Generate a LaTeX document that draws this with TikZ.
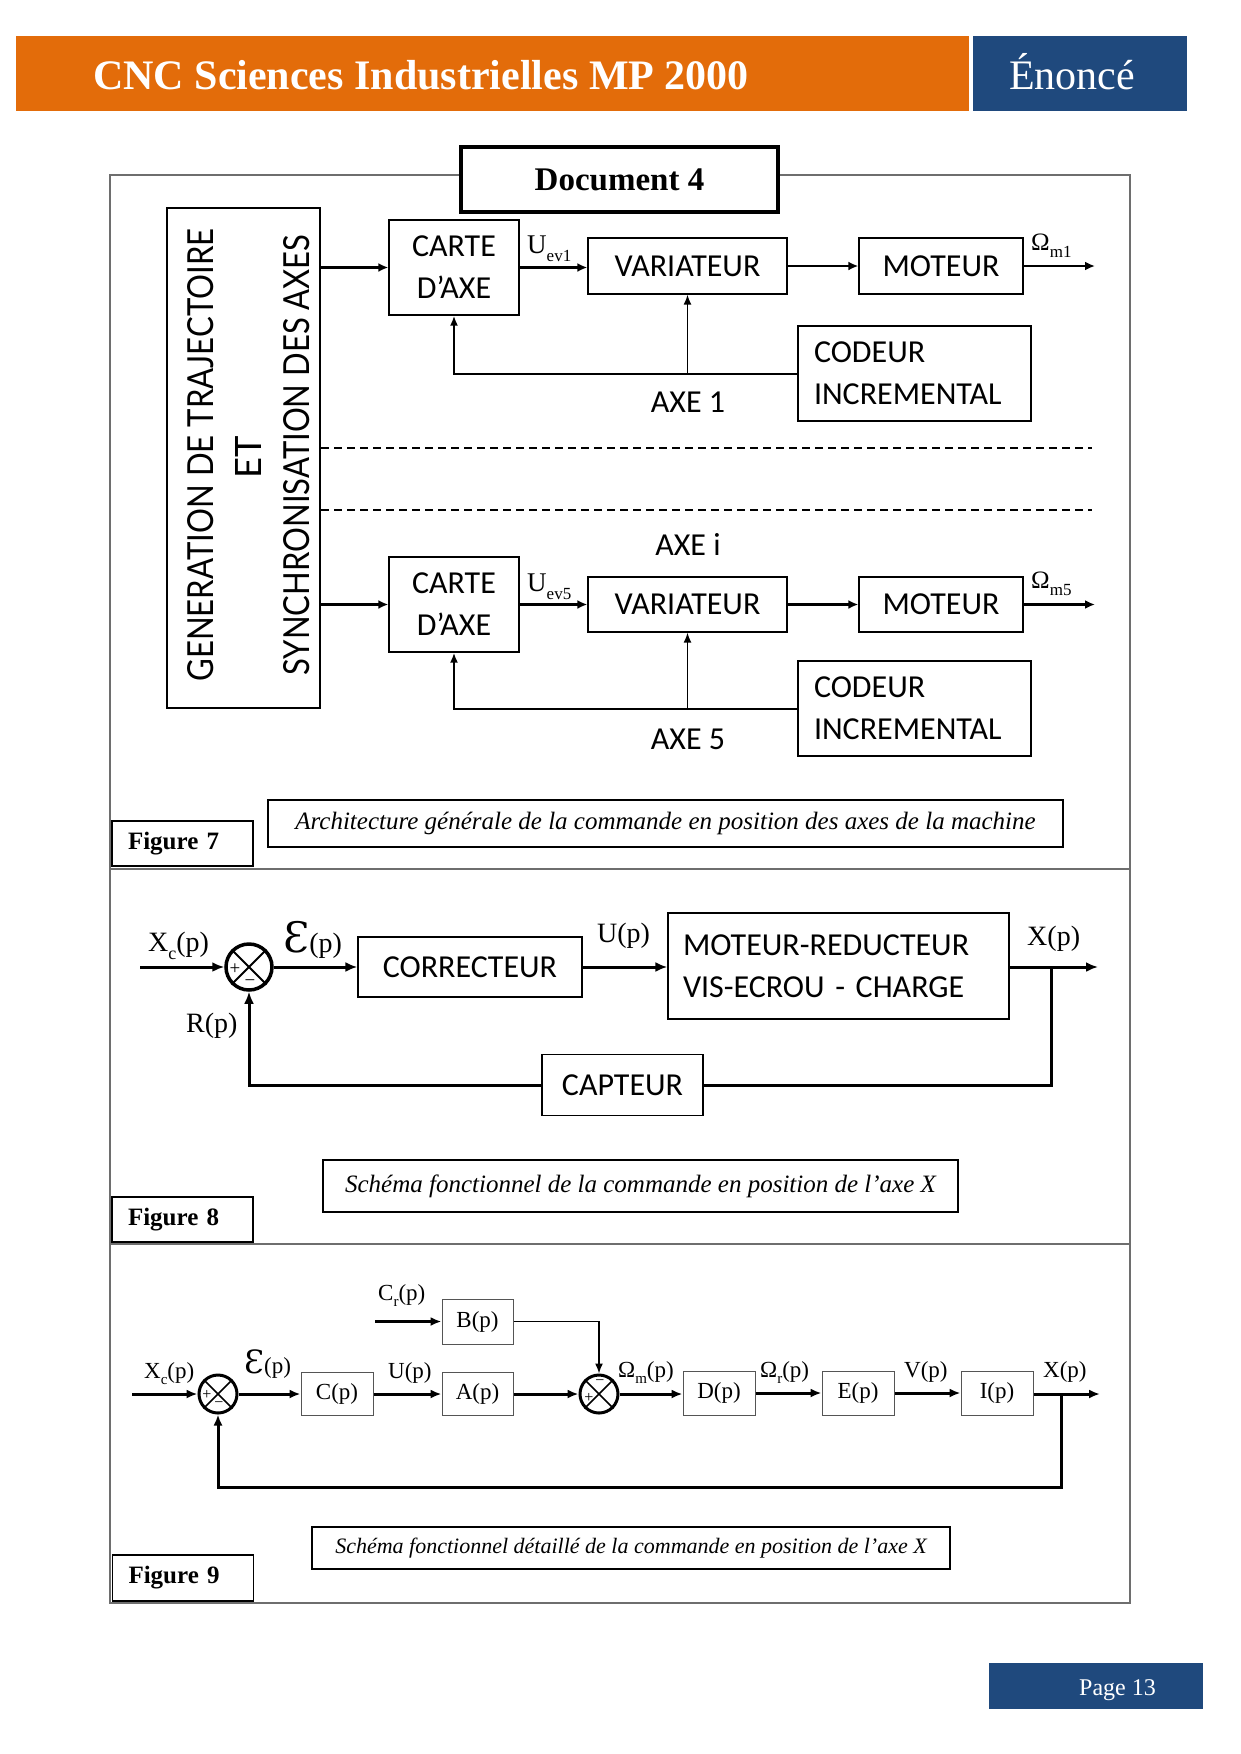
\documentclass[tikz,border=0pt]{standalone}
\usepackage{fontspec}
\usepackage{graphicx}
\setmainfont{Liberation Serif}
\newfontfamily\blkfont{Carlito}
\newfontfamily\genfont{Lato}
\newfontfamily\epsfont{DejaVu Serif}
\usetikzlibrary{arrows.meta,calc}
\definecolor{hdrorange}{HTML}{E36C0A}
\definecolor{hdrblue}{HTML}{1F497D}
\definecolor{framegray}{HTML}{6E6E6E}
\definecolor{boxgray}{HTML}{555555}
\newcommand\fsz[2]{\fontsize{#1}{#2}\selectfont}
\newcommand\sbx[2]{\raisebox{-0.3em}{\fontsize{#1}{#1}\selectfont #2}}
\begin{document}
\begin{tikzpicture}[x=1pt,y=-1pt,
  lbl/.style={inner sep=0pt},
  blk/.style={draw=black, line width=1.3pt, inner sep=0pt, font={\blkfont\fsz{32}{42}}, align=center},
  blknine/.style={draw=boxgray, line width=1pt, inner sep=0pt, font={\fsz{23}{23}}},
  capbox/.style={draw=black, line width=1.5pt, inner sep=0pt, font={\itshape\fsz{25}{25}}},
  figbox/.style={draw=black, line width=1.5pt, inner xsep=16pt, inner ysep=0pt, text width=109pt, align=left, font={\bfseries\fsz{25}{25}}},
  sumnode/.style={draw=black, circle, inner sep=0pt},
  arrseven/.style={line width=2.5pt, -{Latex[length=10pt,width=9pt]}},
  fbseven/.style={line width=2pt, -{Latex[length=10pt,width=8pt]}},
  fbthin/.style={line width=1.5pt, -{Latex[length=10pt,width=8pt]}},
  arreight/.style={line width=3pt, -{Latex[length=12pt,width=10pt]}},
  lneight/.style={line width=3pt},
  arrnine/.style={line width=3pt, -{Latex[length=11pt,width=9pt]}},
  arrninethin/.style={line width=1.5pt, -{Latex[length=10pt,width=8pt]}},
  dashline/.style={line width=2pt, dash pattern=on 8pt off 5pt}
]
\useasboundingbox (0,0) rectangle (1240,1754);

% ---------- header ----------
\node[fill=hdrorange, minimum width=953pt, minimum height=75pt, inner sep=0pt] (hdr) at (492.5,73.5) {};
\node[fill=hdrblue, minimum width=214pt, minimum height=75pt, inner sep=0pt] (tag) at (1080,73.5) {};
\node[lbl, anchor=base west, text=white, font={\bfseries\fsz{42}{42}}] (ttl) at (93,89) {CNC Sciences Industrielles MP 2000};
\node[lbl, anchor=base west, text=white, font={\fsz{42}{42}}] (enonce) at (1009,89) {Énoncé};

% ---------- page number ----------
\node[fill=hdrblue, minimum width=214pt, minimum height=46pt, inner sep=0pt] (pg) at (1096,1686) {};
\node[lbl, anchor=base east, text=white, font={\fsz{24}{24}}] (pgt) at (1156,1695) {Page 13};

% ---------- frame ----------
\draw[framegray, line width=1.5pt] (110,175) rectangle (1130,1603);
\draw[framegray, line width=1.5pt] (110,869) -- (1130,869);
\draw[framegray, line width=1.5pt] (110,1244) -- (1130,1244);
\node[draw=black, line width=4pt, fill=white, minimum width=317pt, minimum height=65pt, inner sep=0pt, font={\bfseries\fsz{33}{33}}] (doc) at (619.5,179.5) {Document 4};

% ---------- Figure 7 ----------
\node[draw=black, line width=2pt, minimum width=153pt, minimum height=500pt, inner sep=0pt] (gen) at (243.5,458) {};
\node[lbl, rotate=90, font=\genfont] (gone) at (201,455) {\resizebox{453pt}{26pt}{GENERATION DE TRAJECTOIRE}};
\node[lbl, rotate=90, font=\genfont] (gtwo) at (248,457) {\resizebox{!}{26pt}{ET}};
\node[lbl, rotate=90, font=\genfont] (gthree) at (297,455) {\resizebox{441pt}{26pt}{SYNCHRONISATION DES AXES}};

\node[blk, minimum width=130pt, minimum height=95pt] (carteone) at (454,267.5) {CARTE\\D’AXE};
\node[blk, minimum width=199pt, minimum height=56pt] (varone) at (687.5,266) {VARIATEUR};
\node[blk, minimum width=164pt, minimum height=56pt] (motone) at (941,266) {MOTEUR};
\node[blk, minimum width=233pt, minimum height=95pt, align=left, text width=201pt, inner xsep=16pt] (codone) at (914.5,373.5) {CODEUR\\INCREMENTAL};
\node[lbl, font={\blkfont\fsz{32}{32}}] (axeone) at (688,402) {AXE 1};

\coordinate (outone) at (1095,266);
\draw[arrseven] (gen.east |- carteone.west) -- (carteone.west);
\draw[arrseven] (carteone.east) -- (carteone.east -| varone.west);
\draw[arrseven] (varone.east) -- (motone.west);
\draw[arrseven] (motone.east) -- (outone);
\draw[fbseven] (codone.west) -| (carteone.south);
\draw[fbthin] (codone.west -| varone.south) -- (varone.south);
\node[lbl, anchor=base west, font={\fsz{27}{27}}] (uone) at (527,253) {U\sbx{17}{ev1}};
\node[lbl, anchor=base west, font={\fsz{25}{25}}] (omone) at (1031,250) {Ω\sbx{17}{m1}};

\coordinate (daone) at (321,448); \coordinate (dbone) at (1092,448);
\coordinate (datwo) at (321,510); \coordinate (dbtwo) at (1092,510);
\draw[dashline] (daone) -- (dbone);
\draw[dashline] (datwo) -- (dbtwo);
\node[lbl, font={\blkfont\fsz{32}{32}}] (axei) at (688,544) {AXE i};

\node[blk, minimum width=130pt, minimum height=95pt] (cartefive) at (454,604.5) {CARTE\\D’AXE};
\node[blk, minimum width=199pt, minimum height=55pt] (varfive) at (687.5,604.5) {VARIATEUR};
\node[blk, minimum width=164pt, minimum height=55pt] (motfive) at (941,604.5) {MOTEUR};
\node[blk, minimum width=233pt, minimum height=95pt, align=left, text width=201pt, inner xsep=16pt] (codfive) at (914.5,708.5) {CODEUR\\INCREMENTAL};
\node[lbl, font={\blkfont\fsz{32}{32}}] (axefive) at (688,739) {AXE 5};

\coordinate (outfive) at (1095,604.5);
\draw[arrseven] (gen.east |- cartefive.west) -- (cartefive.west);
\draw[arrseven] (cartefive.east) -- (varfive.west);
\draw[arrseven] (varfive.east) -- (motfive.west);
\draw[arrseven] (motfive.east) -- (outfive);
\draw[fbseven] (codfive.west) -| (cartefive.south);
\draw[fbthin] (codfive.west -| varfive.south) -- (varfive.south);
\node[lbl, anchor=base west, font={\fsz{27}{27}}] (ufive) at (527,591) {U\sbx{17}{ev5}};
\node[lbl, anchor=base west, font={\fsz{25}{25}}] (omfive) at (1031,588) {Ω\sbx{17}{m5}};

\node[capbox, minimum width=795pt, minimum height=47pt] (capseven) at (665.5,823.5) {Architecture générale de la commande en position des axes de la machine};
\node[figbox, minimum height=45pt] (figseven) at (182.5,843.5) {Figure 7};

% ---------- Figure 8 ----------
\node[sumnode, line width=3.5pt, minimum size=46pt] (seight) at (249,967) {};
\draw[line width=2pt] (seight.north west) -- (seight.south east) (seight.north east) -- (seight.south west);
\node[lbl, font={\fsz{19}{19}}] (seightp) at (235,969) {+};
\node[lbl, font={\fsz{19}{19}}] (seightm) at (250,983) {−};
\node[blk, minimum width=224pt, minimum height=60pt] (corr) at (470,967) {CORRECTEUR};
\node[blk, minimum width=341pt, minimum height=106pt, align=left, text width=311pt, inner xsep=15pt] (mr) at (838.5,966) {MOTEUR-REDUCTEUR\\VIS-ECROU - CHARGE};
\node[blk, minimum width=161pt, minimum height=61pt] (capt) at (622.5,1085) {CAPTEUR};

\coordinate (ineight) at (140,967);
\coordinate (outeight) at (1098,967);
\coordinate (breight) at (1051,967);
\draw[arreight] (ineight) -- (seight.west);
\draw[arreight] (seight.east) -- (corr.west);
\draw[arreight] (corr.east) -- (corr.east -| mr.west);
\draw[arreight] (mr.east |- outeight) -- (outeight);
\draw[lneight] (breight) |- (capt.east);
\draw[arreight] (capt.west) -| (seight.south);

\node[lbl, anchor=base west, font={\fsz{28}{28}}] (xceight) at (148,951) {X\sbx{18}{c}(p)};
\node[lbl, anchor=base west, font={\fsz{28}{28}}] (eeight) at (283,952) {{\epsfont\fsz{42}{42}Ɛ}(p)};
\node[lbl, anchor=base west, font={\fsz{28}{28}}] (reight) at (186,1032) {R(p)};
\node[lbl, anchor=base west, font={\fsz{28}{28}}] (ueight) at (597,942) {U(p)};
\node[lbl, anchor=base west, font={\fsz{28}{28}}] (xeight) at (1027,945) {X(p)};

\node[capbox, minimum width=635pt, minimum height=52pt] (capeight) at (640.5,1186) {Schéma fonctionnel de la commande en position de l’axe X};
\node[figbox, minimum height=45pt] (figeight) at (182.5,1219.5) {Figure 8};

% ---------- Figure 9 ----------
\node[sumnode, line width=3pt, minimum size=38pt] (sone) at (218,1394) {};
\draw[line width=1.5pt] (sone.north west) -- (sone.south east) (sone.north east) -- (sone.south west);
\node[lbl, font={\fsz{16}{16}}] (sonep) at (207,1395) {+};
\node[lbl, font={\fsz{16}{16}}] (sonem) at (219,1405) {−};
\node[sumnode, line width=3pt, minimum size=38pt] (stwo) at (599,1394) {};
\draw[line width=1.5pt] (stwo.north west) -- (stwo.south east) (stwo.north east) -- (stwo.south west);
\node[lbl, font={\fsz{16}{16}}] (stwom) at (600,1383) {−};
\node[lbl, font={\fsz{16}{16}}] (stwop) at (589,1398) {+};

\node[blknine, minimum width=72pt, minimum height=43pt] (cp) at (337,1394) {C(p)};
\node[blknine, minimum width=71pt, minimum height=43pt] (ap) at (477.5,1394) {A(p)};
\node[blknine, minimum width=71pt, minimum height=45pt] (bp) at (477.5,1321.5) {B(p)};
\node[blknine, minimum width=72pt, minimum height=44pt] (dp) at (719,1393) {D(p)};
\node[blknine, minimum width=72pt, minimum height=44pt] (ep) at (858,1393) {E(p)};
\node[blknine, minimum width=72pt, minimum height=44pt] (ip) at (997,1393) {I(p)};

\coordinate (innine) at (132,1394);
\coordinate (outnine) at (1100,1394);
\coordinate (brnine) at (1061,1394);
\coordinate (fbnine) at (640,1487);
\coordinate (crnine) at (375,1321.5);
\draw[arrnine] (innine) -- (sone.west);
\draw[arrnine] (sone.east) -- (cp.west);
\draw[arrnine] (cp.east) -- (ap.west);
\draw[arrnine] (ap.east) -- (stwo.west);
\draw[arrnine] (stwo.east) -- (stwo.east -| dp.west);
\draw[arrnine] (dp.east) -- (ep.west);
\draw[arrnine] (ep.east) -- (ip.west);
\draw[arrnine] (ip.east |- outnine) -- (outnine);
\draw[arrnine] (brnine) |- (fbnine) -| (sone.south);
\draw[arrnine] (crnine) -- (bp.west);
\draw[arrninethin] (bp.east) -| (stwo.north);

\node[lbl, anchor=base west, font={\fsz{23}{23}}] (xcnine) at (144,1378) {X\sbx{15}{c}(p)};
\node[lbl, anchor=base west, font={\fsz{23}{23}}] (enine) at (244,1373) {{\epsfont\fsz{32}{32}Ɛ}(p)};
\node[lbl, anchor=base west, font={\fsz{23}{23}}] (unine) at (388,1378) {U(p)};
\node[lbl, anchor=base west, font={\fsz{23}{23}}] (crlabel) at (378,1300) {C\sbx{15}{r}(p)};
\node[lbl, anchor=base west, font={\fsz{23}{23}}] (omnine) at (618,1377) {Ω\sbx{15}{m}(p)};
\node[lbl, anchor=base west, font={\fsz{23}{23}}] (ornine) at (760,1377) {Ω\sbx{15}{r}(p)};
\node[lbl, anchor=base west, font={\fsz{23}{23}}] (vnine) at (904,1377) {V(p)};
\node[lbl, anchor=base west, font={\fsz{23}{23}}] (xnine) at (1043,1377) {X(p)};

\node[capbox, minimum width=638pt, minimum height=42pt, font={\itshape\fsz{22}{22}}] (capnine) at (631,1548) {Schéma fonctionnel détaillé de la commande en position de l’axe X};
\node[figbox, minimum height=46pt] (fignine) at (183,1578) {Figure 9};
\end{tikzpicture}
\end{document}
